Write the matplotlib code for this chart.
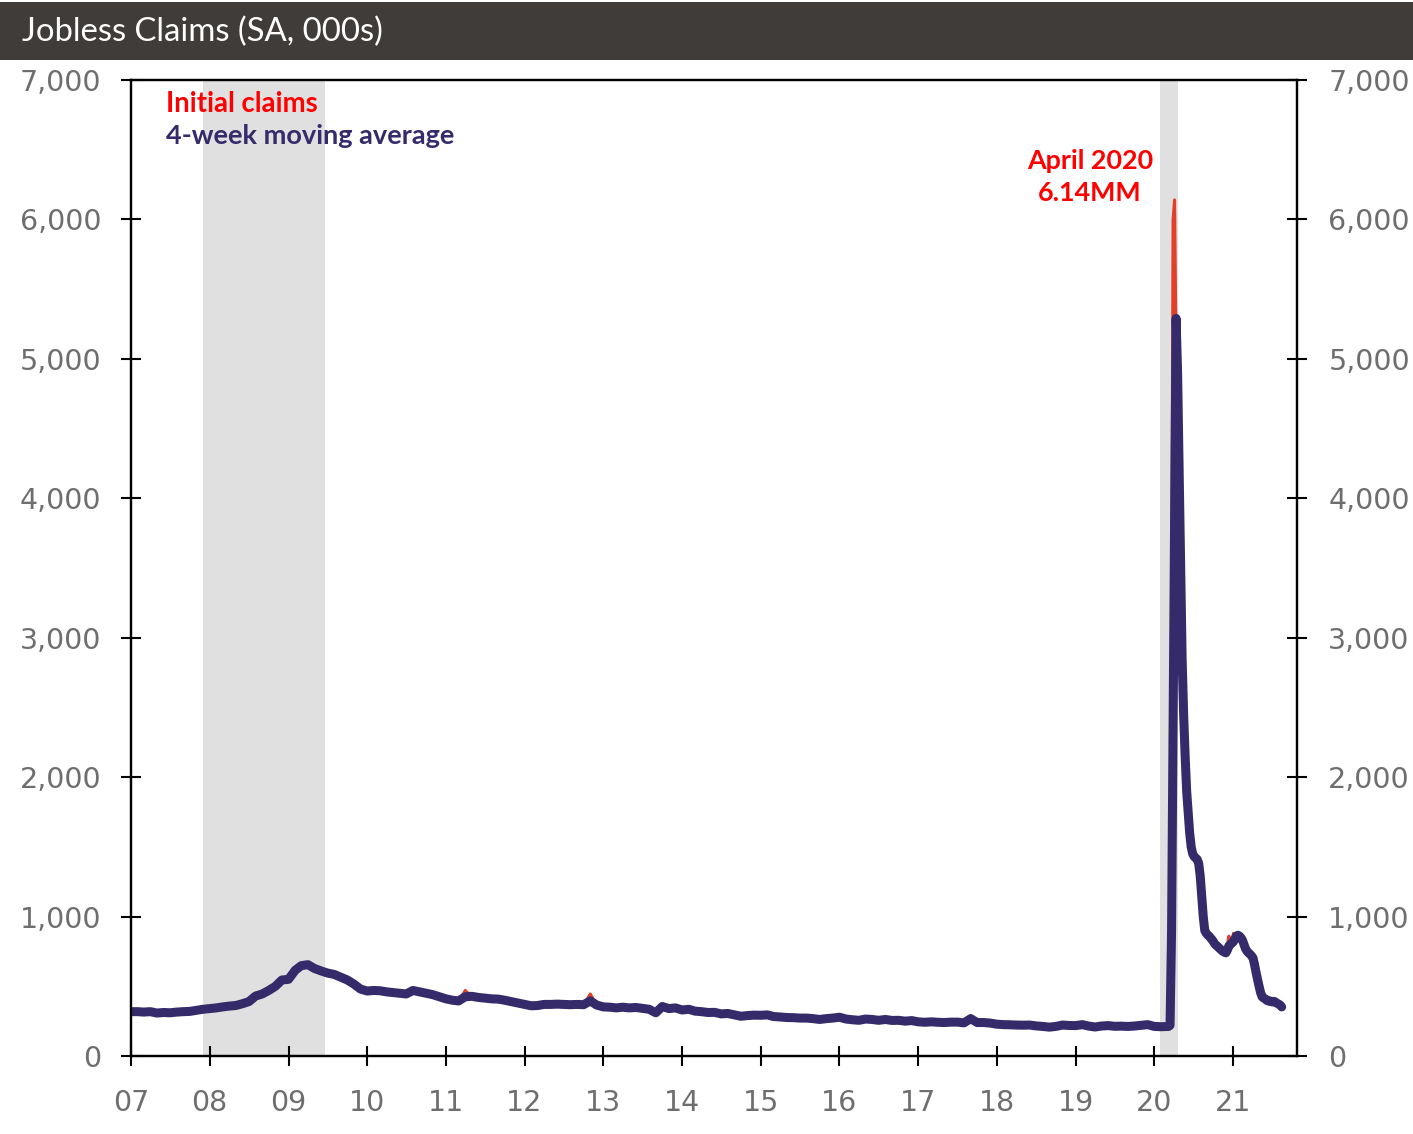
import matplotlib
matplotlib.use("Agg")
import matplotlib.pyplot as plt
from matplotlib.patches import Rectangle
import pandas as pd

plt.rcParams['font.family'] = ['Lato', 'DejaVu Sans']

# ---------------- data (thousands, SA) ----------------
# monthly readings Jan-2007 .. Feb-2020
claims_monthly = [
    320, 325, 312, 322, 302, 315, 305, 318, 315, 325, 332, 340,   # 2007
    338, 350, 355, 360, 365, 380, 395, 440, 455, 478, 515, 560,   # 2008
    565, 630, 655, 650, 620, 605, 590, 580, 560, 540, 505, 475,   # 2009
    470, 472, 462, 458, 452, 455, 448, 480, 458, 448, 435, 420,   # 2010
    408, 398, 392, 470, 425, 418, 412, 408, 410, 398, 388, 375,   # 2011
    365, 358, 365, 372, 370, 375, 368, 368, 372, 365, 445, 362,   # 2012
    350, 348, 345, 348, 345, 350, 340, 330, 305, 370, 338, 345,   # 2013
    330, 335, 320, 315, 310, 315, 300, 305, 292, 283, 290, 295,   # 2014
    290, 295, 283, 280, 275, 275, 270, 275, 268, 260, 268, 275,   # 2015
    280, 262, 258, 255, 265, 262, 255, 262, 252, 255, 250, 255,   # 2016
    245, 240, 245, 240, 240, 243, 243, 236, 290, 238, 240, 235,   # 2017
    227, 224, 222, 221, 220, 222, 215, 211, 205, 212, 222, 218,   # 2018
    217, 226, 214, 205, 215, 218, 212, 214, 210, 215, 222, 225,   # 2019
    212, 210,                                                     # 2020
]
ma_monthly = [
    318, 318, 315, 318, 308, 312, 310, 315, 318, 320, 328, 335,   # 2007
    340, 345, 352, 358, 362, 375, 390, 430, 445, 470, 500, 545,   # 2008
    550, 615, 648, 655, 628, 610, 595, 585, 565, 545, 515, 480,   # 2009
    466, 470, 468, 460, 455, 450, 445, 470, 460, 450, 440, 425,   # 2010
    410, 400, 395, 425, 428, 420, 415, 410, 408, 400, 390, 380,   # 2011
    370, 360, 362, 370, 370, 372, 370, 368, 370, 368, 395, 365,   # 2012
    352, 350, 345, 350, 345, 348, 342, 335, 310, 355, 340, 345,   # 2013
    330, 335, 322, 318, 312, 313, 302, 305, 295, 285, 290, 293,   # 2014
    292, 295, 283, 280, 276, 275, 272, 272, 268, 262, 268, 272,   # 2015
    278, 265, 260, 256, 265, 262, 256, 262, 255, 256, 250, 254,   # 2016
    245, 242, 245, 242, 240, 243, 243, 238, 268, 240, 240, 236,   # 2017
    228, 225, 224, 222, 221, 222, 216, 212, 207, 212, 222, 219,   # 2018
    218, 225, 215, 208, 215, 218, 213, 214, 212, 215, 220, 225,   # 2019
    212, 210,                                                     # 2020
]
# weekly readings, week ending 7-Mar-2020 .. 14-Aug-2021
claims_weekly = [
    215, 255, 2900, 6000, 6140, 5050, 4250, 3450, 2850, 2500,
    2200, 1950, 1800, 1650, 1550, 1470, 1440, 1420, 1430, 1400,
    1360, 1200, 1050, 940, 880, 870, 865, 850, 840, 825,
    805, 795, 785, 775, 765, 755, 745, 740, 760, 800,
    860, 820, 800, 880, 870, 850, 860, 835, 820, 810,
    770, 745, 735, 730, 720, 720, 690, 640, 600, 540,
    490, 450, 420, 415, 410, 395, 385, 400, 395, 385,
    400, 380, 375, 360, 350, 345,
]
ma_weekly = [
    212, 220, 900, 2350, 3800, 5290, 4900, 4200, 3450, 2850,
    2450, 2150, 1900, 1750, 1600, 1500, 1450, 1430, 1420, 1410,
    1380, 1290, 1140, 1000, 900, 880, 868, 858, 845, 832,
    815, 800, 790, 780, 770, 760, 750, 745, 740, 760,
    790, 800, 810, 820, 840, 860, 866, 860, 848, 830,
    800, 770, 752, 740, 730, 718, 703, 655, 600, 550,
    500, 455, 425, 416, 410, 400, 395, 396, 390, 388,
    392, 385, 378, 372, 365, 352,
]
year_labels = ['07', '08', '09', '10', '11', '12', '13', '14', '15',
               '16', '17', '18', '19', '20', '21']
recessions = [('2007-12-01', '2009-06-20'), ('2020-01-29', '2020-04-20')]

monthly_dates = pd.date_range('2007-01-01', periods=len(claims_monthly), freq='MS')
weekly_dates = pd.date_range('2020-03-07', periods=len(claims_weekly), freq='W-SAT')
dates = list(monthly_dates) + list(weekly_dates)
claims = claims_monthly + claims_weekly
ma = ma_monthly + ma_weekly

# ---------------- figure ----------------
W, H = 1413, 1134
fig = plt.figure(figsize=(W / 100, H / 100), dpi=100)
ax = fig.add_axes([131 / W, 1 - 1056 / H, (1297 - 131) / W, (1056 - 80) / H])

# title bar
fig.patches.append(Rectangle((0, 1 - 60 / H), 1, 58 / H, transform=fig.transFigure,
                             facecolor='#403c39', edgecolor='none', zorder=0))
fig.text(22 / W, 1 - 32 / H, 'Jobless Claims (SA, 000s)', color='white',
         fontsize=23.7, va='center', ha='left')

for s, e in recessions:
    ax.axvspan(pd.Timestamp(s), pd.Timestamp(e), color='#e0e0e0', lw=0, zorder=0)

ax.plot(dates, claims, color='#e3402a', lw=2.2, zorder=2, solid_joinstyle='round')
ax.plot(dates, ma, color='#352b6b', lw=6.5, zorder=3, solid_capstyle='round',
        solid_joinstyle='round')

TICK_FONT = 'DejaVu Sans'
ax.set_ylim(0, 7000)
ax.set_xlim(pd.Timestamp('2007-01-01'), pd.Timestamp('2021-10-24'))
ax.set_yticks(range(0, 7001, 1000))
ax.set_yticklabels([f'{v:,}' for v in range(0, 7001, 1000)], fontfamily=TICK_FONT)
ticks = [pd.Timestamp(f'20{y}-01-01') for y in year_labels]
ax.set_xticks(ticks)
ax.set_xticklabels(year_labels, fontfamily=TICK_FONT)

for sp in ax.spines.values():
    sp.set_linewidth(1.6)
    sp.set_color('black')

ax.tick_params(axis='both', direction='inout', length=15, width=1.5,
               labelsize=20.5, labelcolor='#6e6e6e', color='black')
ax.tick_params(axis='y', pad=14)
ax.tick_params(axis='x', pad=16)

ax2 = ax.twinx()
ax2.set_ylim(0, 7000)
ax2.set_yticks(range(0, 7001, 1000))
ax2.set_yticklabels([f'{v:,}' for v in range(0, 7001, 1000)], fontfamily=TICK_FONT)
ax2.tick_params(axis='y', direction='inout', length=15, width=1.5,
                labelsize=20.5, labelcolor='#6e6e6e', pad=15)
for sp in ax2.spines.values():
    sp.set_linewidth(1.6)

ax.text(0.030, 0.9754, 'Initial claims', transform=ax.transAxes, color='#ff0000',
        fontsize=19.8, fontweight='bold', ha='left', va='center')
ax.text(0.030, 0.9426, '4-week moving average', transform=ax.transAxes, color='#352b6b',
        fontsize=19.5, fontweight='bold', ha='left', va='center')
ax.text((1090 - 131) / 1166, (1056 - 177) / 976, 'April 2020\n6.14MM', transform=ax.transAxes,
        color='#ff0000', fontsize=19.4, fontweight='bold', ha='center', va='center',
        linespacing=1.4)

fig.savefig('out.png', dpi=100)
